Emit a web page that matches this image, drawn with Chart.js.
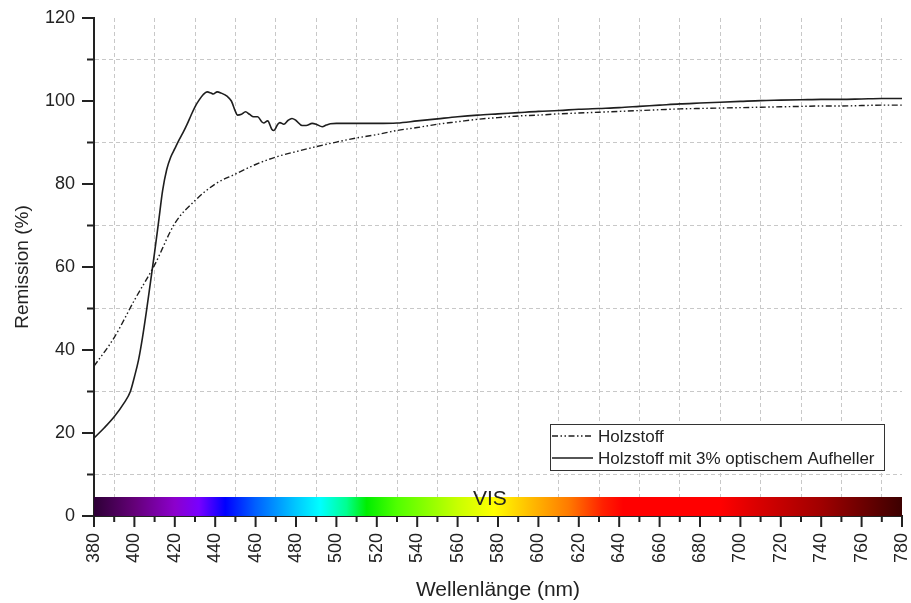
<!DOCTYPE html>
<html lang="de">
<head>
<meta charset="UTF-8">
<title>Remission Holzstoff</title>
<style>
  body { margin: 0; background: #fff; }
  #wrap { width: 911px; height: 603px; }
</style>
<script src="https://cdn.jsdelivr.net/npm/chart.js"></script>
</head>
<body>
<div id="wrap"><canvas id="chart" width="911" height="603"></canvas></div>
<script>
// axis ranges
const xRange = [380, 780];
const yRange = [0, 120];

// Holzstoff (dash-dot-dot)
const wlPlain = [380,390,400,410,420,430,440,450,460,470,480,490,500,510,520,530,540,550,560,570,
                 580,590,600,610,620,630,640,650,660,670,680,690,700,710,720,730,740,750,760,770,780];
const remPlain = [36.1,43,52,60.5,70.5,76,80,82.4,84.7,86.5,87.8,89,90.1,91.1,91.9,92.9,93.6,94.4,95,95.6,
                  96,96.4,96.6,96.9,97.1,97.3,97.5,97.7,97.9,98.1,98.2,98.3,98.4,98.5,98.6,98.7,98.8,98.8,98.9,99,99];

// Holzstoff mit 3% optischem Aufheller (solid)
const wlBright = [380,385,390,395,398,400,402,404,406,408,410,412,414,416,418,420,422,424,426,428,
                  430,432,434,436,438,439,441,443,446,448,450,451,453,455,457,459,461,463,464,466,
                  468,469,471,472,474,476,478,480,483,485,488,490,493,495,497,500,510,520,530,540,
                  550,560,570,580,590,600,610,620,630,640,650,660,670,680,690,700,710,720,730,740,
                  750,760,770,780];
const remBright = [18.8,21.2,23.9,27.3,30,33.5,37.5,43,49.5,56.5,63.5,71,78.5,83.5,86.5,88.5,90.5,92.3,94.3,96.5,
                   98.6,100.2,101.5,102.2,101.9,101.7,102.2,101.9,101.1,100,97.5,96.6,96.8,97.4,96.8,96.2,96.2,95,94.7,95.2,
                   93.2,92.9,94.4,94.8,94.4,95.3,95.8,95.3,94.1,94.1,94.6,94.4,93.8,94.2,94.5,94.6,94.6,94.6,94.7,95.2,
                   95.7,96.2,96.6,96.9,97.2,97.5,97.7,98,98.2,98.4,98.7,99,99.3,99.5,99.7,99.9,100.1,100.2,100.3,100.4,
                   100.4,100.5,100.6,100.6];

// visible spectrum band
const visBand = 4.6;
const visLabelX = 576;
const specWl = [380,400,420,432,445,460,480,492,505,515,530,560,578,595,615,632,642,690,705,740,780];
const specColor = ['#2e0036','#640078','#8c00cc','#7800ff','#0000ff','#0060ff','#00c8ff','#00ffff','#00ff90',
                   '#00ee00','#50ff00','#c8ff00','#ffff00','#ffc000','#ff7a00','#ff2000','#ff0000','#ff0000',
                   '#e00000','#a00000','#3c0000'];

const FONT = '"Liberation Sans", Arial, sans-serif';
const INK = '#222';

function toXY(xs, ys) { return xs.map((x, i) => ({ x: x, y: ys[i] })); }

function spectrumFill(context) {
  const chart = context.chart;
  const xs = chart.scales.x;
  if (!chart.chartArea || !xs) return '#888';
  const x0 = xs.getPixelForValue(xRange[0]);
  const x1 = xs.getPixelForValue(xRange[1]);
  const g = chart.ctx.createLinearGradient(x0, 0, x1, 0);
  specWl.forEach((w, i) => g.addColorStop((w - xRange[0]) / (xRange[1] - xRange[0]), specColor[i]));
  return g;
}

// major/minor tick marks outside the axes
const tickMarks = {
  id: 'tickMarks',
  afterDraw(chart) {
    const { ctx } = chart;
    const xs = chart.scales.x, ys = chart.scales.y;
    ctx.save();
    ctx.strokeStyle = INK;
    ctx.lineWidth = 2;
    ctx.beginPath();
    xs.ticks.forEach(t => {
      const px = xs.getPixelForValue(t.value);
      const len = t.value % 20 === 0 ? 11 : 6;
      ctx.moveTo(px, xs.top);
      ctx.lineTo(px, xs.top + len);
    });
    ys.ticks.forEach(t => {
      const py = ys.getPixelForValue(t.value);
      const len = t.value % 20 === 0 ? 12 : 7;
      ctx.moveTo(ys.right, py);
      ctx.lineTo(ys.right - len, py);
    });
    ctx.stroke();
    ctx.restore();
  }
};

// VIS label and framed legend inside the plot
const overlay = {
  id: 'overlay',
  afterDatasetsDraw(chart) {
    const { ctx, chartArea: a } = chart;
    const xs = chart.scales.x, ys = chart.scales.y;
    ctx.save();
    ctx.fillStyle = INK;
    ctx.font = '21px ' + FONT;
    ctx.textAlign = 'center';
    ctx.textBaseline = 'alphabetic';
    ctx.fillText('VIS', xs.getPixelForValue(visLabelX), ys.getPixelForValue(visBand) + 8);

    const w = 334, h = 46;
    const bx = a.right - 18 - w, by = a.bottom - 46 - h;
    ctx.fillStyle = '#fff';
    ctx.fillRect(bx, by, w, h);
    ctx.strokeStyle = '#333';
    ctx.lineWidth = 1;
    ctx.strokeRect(bx + 0.5, by + 0.5, w, h);

    ctx.font = '17px ' + FONT;
    ctx.textAlign = 'left';
    ctx.textBaseline = 'middle';
    let row = 0;
    chart.data.datasets.forEach(ds => {
      if (!ds.label) return;
      const cy = by + 12 + row * 22;
      ctx.strokeStyle = ds.borderColor;
      ctx.lineWidth = ds.borderWidth;
      ctx.setLineDash(ds.borderDash || []);
      ctx.beginPath();
      ctx.moveTo(bx + 2, cy);
      ctx.lineTo(bx + 43, cy);
      ctx.stroke();
      ctx.setLineDash([]);
      ctx.fillStyle = INK;
      ctx.fillText(ds.label, bx + 48, cy + 1);
      row++;
    });
    ctx.restore();
  }
};

const gridColor = ctx => (ctx.tick && ctx.tick.value % 20 !== 0) ? '#c8c8c8' : 'rgba(0,0,0,0)';

new Chart(document.getElementById('chart'), {
  type: 'line',
  data: {
    datasets: [
      {
        label: 'Holzstoff',
        data: toXY(wlPlain, remPlain),
        borderColor: '#1e1e1e',
        borderWidth: 1.4,
        borderDash: [6, 2.5, 1.5, 2.5, 1.5, 2.5],
        pointRadius: 0,
        cubicInterpolationMode: 'monotone',
        fill: false
      },
      {
        label: 'Holzstoff mit 3% optischem Aufheller',
        data: toXY(wlBright, remBright),
        borderColor: '#1e1e1e',
        borderWidth: 1.6,
        pointRadius: 0,
        cubicInterpolationMode: 'monotone',
        fill: false
      },
      {
        label: '',
        data: [{ x: xRange[0], y: visBand }, { x: xRange[1], y: visBand }],
        borderWidth: 0,
        borderColor: 'rgba(0,0,0,0)',
        backgroundColor: spectrumFill,
        pointRadius: 0,
        fill: 'origin',
        order: 5
      }
    ]
  },
  options: {
    responsive: false,
    animation: false,
    devicePixelRatio: 1,
    layout: { padding: { top: 18, right: 9, left: 0, bottom: 0 } },
    plugins: {
      legend: { display: false },
      tooltip: { enabled: false }
    },
    scales: {
      x: {
        type: 'linear',
        min: xRange[0],
        max: xRange[1],
        afterFit: s => { s.height = 87; s.paddingLeft = 0; s.paddingRight = 0; },
        ticks: {
          stepSize: 10,
          autoSkip: false,
          minRotation: 90,
          maxRotation: 90,
          padding: 17,
          color: INK,
          font: { family: FONT, size: 18 },
          callback: v => (v % 20 === 0 ? String(v) : '')
        },
        grid: { color: gridColor, lineWidth: 1, drawTicks: false },
        border: { color: INK, width: 2, dash: [4, 3] },
        title: {
          display: true,
          text: 'Wellenlänge (nm)',
          color: INK,
          font: { family: FONT, size: 21 },
          padding: { top: 0, bottom: 0 }
        }
      },
      y: {
        min: yRange[0],
        max: yRange[1],
        afterFit: s => { s.width = 94; s.paddingTop = 0; s.paddingBottom = 0; },
        ticks: {
          stepSize: 10,
          padding: 19,
          color: INK,
          font: { family: FONT, size: 18 },
          callback: v => (v % 20 === 0 ? String(v) : '')
        },
        grid: { color: gridColor, lineWidth: 1, drawTicks: false },
        border: { color: INK, width: 2, dash: [4, 3] },
        title: {
          display: true,
          text: 'Remission (%)',
          color: INK,
          font: { family: FONT, size: 19 },
          padding: { top: 11, bottom: 0 }
        }
      }
    }
  },
  plugins: [tickMarks, overlay]
});
</script>
</body>
</html>
